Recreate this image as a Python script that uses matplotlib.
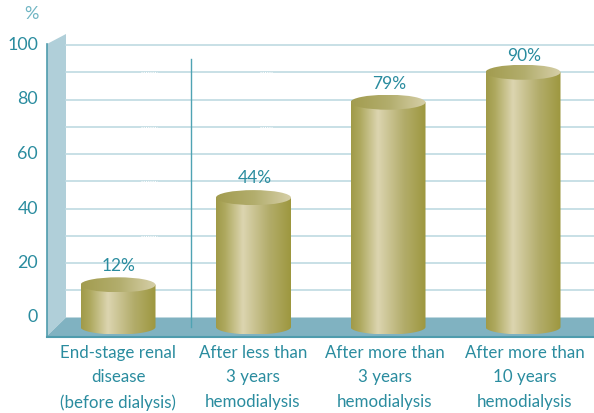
import numpy as np
import matplotlib
matplotlib.use("Agg")
import matplotlib.pyplot as plt
from matplotlib.colors import LinearSegmentedColormap
from matplotlib.patches import Polygon, PathPatch, Ellipse
from matplotlib.path import Path

categories = ["End-stage renal\ndisease\n(before dialysis)",
              "After less than\n3 years\nhemodialysis",
              "After more than\n3 years\nhemodialysis",
              "After more than\n10 years\nhemodialysis"]
values = [12, 44, 79, 90]
value_labels = ["12%", "44%", "79%", "90%"]
y_ticks = [0, 20, 40, 60, 80, 100]
y_minor = [10, 30, 50, 70, 90]

# x axis runs in pixels, y axis in percent (2.725 px per percent, 0 at pixel 317.5)
PX = 2.725
def py(p):
    return (317.5 - p) / PX

teal = "#2a8c9f"
body_cmap = LinearSegmentedColormap.from_list("body", [(0, "#a09a48"), (0.12, "#aea95f"), (0.36, "#dcd5b0"),
                                                       (0.7, "#b3ad6c"), (1, "#9d973f")])
top_cmap = LinearSegmentedColormap.from_list("top", ["#a29c4f", "#b2ad6c", "#d6cfa8"])
grad = np.linspace(0, 1, 256).reshape(1, -1)

plt.rcParams["font.family"] = ["Lato", "DejaVu Sans"]

fig = plt.figure(figsize=(5.94, 4.13), dpi=100)
ax = fig.add_axes([0, 0, 1, 1])
ax.axis("off")

# wall and floor
ax.add_patch(Polygon([(47, py(44)), (66, py(34)), (66, py(317.5)), (47, py(336))], color="#b0cfd9", lw=0))
ax.add_patch(Polygon([(47, py(336)), (66, py(317.5)), (594, py(317.5)), (594, py(336))], color="#80b2c1", lw=0))

for v in y_ticks[1:] + y_minor:
    ax.plot([66, 594], [v, v], color="#bfdae2", lw=1.2, zorder=1)
for v in [90, 70, 50, 30]:
    ax.plot([141, 157], [v, v], color="white", lw=0.8, ls=(0, (1, 1)), zorder=1.5)
for v in [90, 70]:
    ax.plot([260, 272], [v, v], color="white", lw=0.8, ls=(0, (1, 1)), zorder=1.5)

ax.plot([47, 47], [py(44), py(336)], color="#4f9cad", lw=1.2, zorder=2)
ax.plot([47, 594], [py(336.5), py(336.5)], color="#4f9cad", lw=1.5, zorder=2)
ax.plot([190.5, 190.5], [py(59), py(327)], color="#4fa3b3", lw=1, zorder=2)

centers = [118, 253.5, 388, 523]
half = 37.5
ry = 7.5 / PX
base = py(327)
label_x = [118, 253, 385, 525]
label_nudge = [7, 7.2, 6.7, 6]

for cx, v, lab, tx, lx, dy in zip(centers, values, value_labels, categories, label_x, label_nudge):
    # cylinder side: straight sides plus rounded bottom
    t = np.linspace(np.pi, 2 * np.pi, 60)
    xs = np.r_[cx - half, cx + half * np.cos(t), cx + half]
    ys = np.r_[v, base + ry * np.sin(t), v]
    verts = np.c_[xs, ys]
    body = PathPatch(Path(np.r_[verts, verts[:1]], closed=True), fc="none", ec="none")
    ax.add_patch(body)
    im = ax.imshow(grad, cmap=body_cmap, extent=[cx - half, cx + half, base - ry, v], aspect="auto", zorder=3)
    im.set_clip_path(body)
    # top of the cylinder
    top = Ellipse((cx, v), 2 * half, 2 * ry, fc="none", ec="none")
    ax.add_patch(top)
    im2 = ax.imshow(grad, cmap=top_cmap, extent=[cx - half, cx + half, v - ry, v + ry], aspect="auto", zorder=4)
    im2.set_clip_path(top)
    ax.text(cx + 1, v + dy, lab, color=teal, fontsize=12.5, ha="center", va="center", zorder=5)
    ax.text(lx, py(345), tx, color=teal, fontsize=12.2, ha="center", va="top", linespacing=1.65)

for v in y_ticks:
    ax.text(38, v, str(v), color=teal, fontsize=12.8, ha="right", va="center")
ax.text(31, py(14), "%", color="#6fb5c3", fontsize=13, ha="center", va="center")

ax.set_xlim(0, 594)
ax.set_ylim(py(413), py(0))

plt.savefig("out.png", dpi=100)
